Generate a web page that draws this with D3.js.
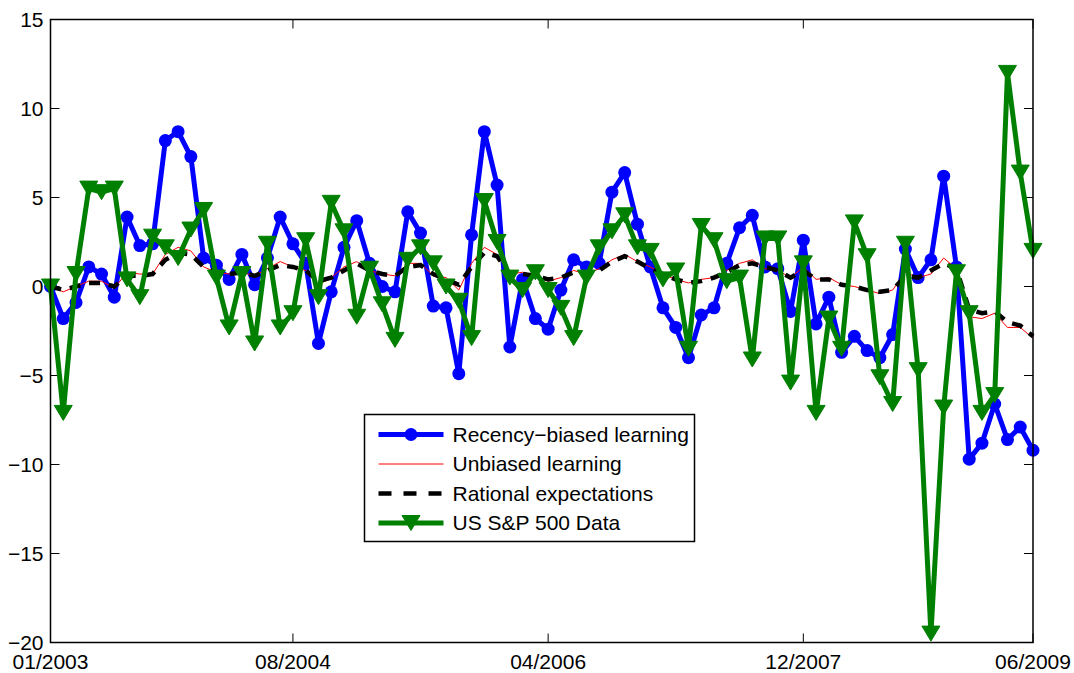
<!DOCTYPE html>
<html>
<head>
<meta charset="utf-8">
<script src="https://cdn.jsdelivr.net/npm/d3@7"></script>
<style>
  body { margin: 0; background: #fff; }
  text { font-family: "Liberation Sans", Arial, Helvetica, sans-serif; fill: #000; }
</style>
</head>
<body>
<script>
// monthly series, 01/2003 .. 06/2009 (78 months)
var recency = [0, -1.8, -0.9, 1.1, 0.7, -0.6, 3.9, 2.3, 2.4, 8.2, 8.7, 7.3,
  1.6, 1.2, 0.4, 1.8, 0.1, 1.6, 3.9, 2.4, 1.3, -3.2, -0.3, 2.2,
  3.7, 1.3, 0.0, -0.3, 4.2, 3.0, -1.1, -1.2, -4.9, 2.9, 8.7, 5.7,
  -3.4, 0.4, -1.8, -2.4, -0.2, 1.5, 1.1, 1.3, 5.3, 6.4, 3.5, 1.1,
  -1.2, -2.3, -4.0, -1.6, -1.2, 1.3, 3.3, 4.0, 1.1, 1.0, -1.4, 2.6,
  -2.1, -0.6, -3.7, -2.8, -3.6, -4.0, -2.7, 2.1, 0.5, 1.5, 6.2, 1.1,
  -9.7, -8.8, -6.6, -8.6, -7.9, -9.2];

var unbiased = [0, -0.3, 0, 0.3, 0.3, -0.1, 0.8, 0.7, 0.7, 1.8, 2.2, 2.0,
  1.1, 0.8, 0.7, 0.8, 0.6, 1.0, 1.4, 1.1, 0.9, 0.1, 0.5, 1.1,
  1.4, 0.9, 0.7, 0.6, 1.3, 1.3, 0.6, 0.5, -0.2, 1.3, 2.2, 1.8,
  0.7, 0.8, 0.6, 0.3, 0.5, 0.9, 0.7, 1.0, 1.5, 1.8, 1.4, 1.1,
  0.7, 0.4, 0.2, 0.4, 0.5, 0.9, 1.3, 1.5, 1.0, 0.9, 0.5, 1.1,
  0.4, 0.5, 0.1, 0.0, -0.2, -0.4, -0.2, 0.8, 0.5, 0.7, 1.6, 1.0,
  -1.7, -1.8, -1.5, -2.3, -2.3, -2.9];

var rational = [0, -0.2, 0, 0.2, 0.2, 0.0, 0.6, 0.6, 0.7, 1.5, 1.9, 1.8,
  1.1, 0.8, 0.7, 0.8, 0.6, 0.9, 1.2, 1.1, 0.9, 0.3, 0.5, 0.9,
  1.3, 0.9, 0.7, 0.6, 1.1, 1.2, 0.7, 0.4, 0.1, 1.1, 1.9, 1.7,
  0.7, 0.7, 0.6, 0.4, 0.5, 0.8, 0.7, 0.9, 1.4, 1.7, 1.4, 1.0,
  0.7, 0.4, 0.2, 0.3, 0.5, 0.8, 1.2, 1.3, 1.1, 0.9, 0.5, 0.9,
  0.4, 0.4, 0.1, 0.0, -0.2, -0.3, -0.2, 0.6, 0.5, 0.9, 1.3, 1.0,
  -1.3, -1.5, -1.4, -2.0, -2.2, -2.8];

var sp500 = [0, -7.1, 0.7, 5.5, 5.3, 5.5, 0.4, -0.6, 2.8, 2.2, 1.6, 3.2,
  4.3, 0.5, -2.3, 0.7, -3.2, 2.4, -2.3, -1.5, 2.6, -0.6, 4.7, 3.1,
  -1.7, 1.0, -1.0, -3.0, 1.5, 2.2, 1.3, 0.0, -0.8, -2.9, 4.8, 2.5,
  0.5, -0.2, 0.8, -0.2, -1.2, -2.9, 0.5, 2.2, 3.1, 4.0, 2.2, 2.0,
  0.4, 0.9, -3.5, 3.4, 2.6, 0.3, 0.5, -4.1, 2.7, 2.7, -5.4, 1.3,
  -7.1, -1.8, -3.5, 3.6, 1.7, -5.1, -6.6, 2.4, -4.7, -19.5, -6.8, 0.8,
  -1.5, -7.1, -6.1, 12.0, 6.4, 2.0];

var xTickIdx = [0, 19, 39, 59, 77];
var xTickLabels = ["01/2003", "08/2004", "04/2006", "12/2007", "06/2009"];
var yTicks = [15, 10, 5, 0, -5, -10, -15, -20];
var seriesNames = ["Recency\u2212biased learning", "Unbiased learning", "Rational expectations", "US S&P 500 Data"];

var width = 1074, height = 673;
var box = {left: 50.5, right: 1033, top: 19.5, bottom: 642.5};

var svg = d3.select('body').append('svg')
  .attr('width', width)
  .attr('height', height);

var x = d3.scaleLinear().domain([0, 77]).range([box.left, box.right]);
var y = d3.scaleLinear().domain([-20, 15]).range([box.bottom, box.top]);

var fmt = function(d) { return d < 0 ? "\u2212" + Math.abs(d) : String(d); };

// box with inward ticks on all four sides (matlab style)
var tickLen = 9;
var axes = svg.append('g');
axes.selectAll('.xt').data(xTickIdx).enter().append('line')
  .attr('x1', function(d) { return x(d); }).attr('x2', function(d) { return x(d); })
  .attr('y1', box.bottom).attr('y2', box.bottom - tickLen)
  .attr('stroke', '#000');
axes.selectAll('.xtt').data(xTickIdx).enter().append('line')
  .attr('x1', function(d) { return x(d); }).attr('x2', function(d) { return x(d); })
  .attr('y1', box.top).attr('y2', box.top + tickLen)
  .attr('stroke', '#000');
axes.selectAll('.yt').data(yTicks).enter().append('line')
  .attr('x1', box.left).attr('x2', box.left + tickLen)
  .attr('y1', function(d) { return y(d); }).attr('y2', function(d) { return y(d); })
  .attr('stroke', '#000');
axes.selectAll('.ytr').data(yTicks).enter().append('line')
  .attr('x1', box.right).attr('x2', box.right - tickLen)
  .attr('y1', function(d) { return y(d); }).attr('y2', function(d) { return y(d); })
  .attr('stroke', '#000');

axes.selectAll('.xl').data(xTickIdx).enter().append('text')
  .attr('x', function(d) { return x(d); })
  .attr('y', box.bottom + 26)
  .attr('text-anchor', 'middle')
  .style('font-size', '21px')
  .text(function(d, i) { return xTickLabels[i]; });
axes.selectAll('.yl').data(yTicks).enter().append('text')
  .attr('x', box.left - 7)
  .attr('y', function(d) { return y(d); })
  .attr('dy', '0.35em')
  .attr('text-anchor', 'end')
  .style('font-size', '21px')
  .text(fmt);

var line = d3.line()
  .x(function(d, i) { return x(i); })
  .y(function(d) { return y(d); });

var plot = svg.append('g');

// recency-biased learning: thick blue with filled circles
plot.append('path').datum(recency)
  .attr('d', line).attr('fill', 'none')
  .attr('stroke', '#0000ff').attr('stroke-width', 5).attr('stroke-linejoin', 'round');
plot.selectAll('.dot').data(recency).enter().append('circle')
  .attr('cx', function(d, i) { return x(i); })
  .attr('cy', function(d) { return y(d); })
  .attr('r', 6.5).attr('fill', '#0000ff');

// unbiased learning
plot.append('path').datum(unbiased)
  .attr('d', line).attr('fill', 'none')
  .attr('stroke', '#ff0000').attr('stroke-width', 1);

// rational expectations
plot.append('path').datum(rational)
  .attr('d', line).attr('fill', 'none')
  .attr('stroke', '#000').attr('stroke-width', 4.5)
  .attr('stroke-dasharray', '11,9');

// s&p data: green with down-pointing triangles
var tri = 'M-9,-7.5L9,-7.5L0,7.5Z';
plot.append('path').datum(sp500)
  .attr('d', line).attr('fill', 'none')
  .attr('stroke', '#008000').attr('stroke-width', 5).attr('stroke-linejoin', 'round');
plot.selectAll('.tri').data(sp500).enter().append('path')
  .attr('d', tri)
  .attr('transform', function(d, i) { return 'translate(' + x(i) + ',' + y(d) + ')'; })
  .attr('fill', '#008000').attr('stroke', '#008000').attr('stroke-width', 1).attr('stroke-linejoin', 'round');

// frame drawn on top of the lines
svg.append('rect')
  .attr('x', box.left).attr('y', box.top)
  .attr('width', box.right - box.left).attr('height', box.bottom - box.top)
  .attr('fill', 'none').attr('stroke', '#000').attr('stroke-width', 1.5);

// legend
var lg = svg.append('g').attr('transform', 'translate(364.5,414.5)');
lg.append('rect').attr('width', 330).attr('height', 127)
  .attr('fill', '#fff').attr('stroke', '#000').attr('stroke-width', 1.5);
var rows = [20, 49.5, 79, 108.5];
var x1 = 14, x2 = 79, xm = 46.5;
lg.append('line').attr('x1', x1).attr('x2', x2).attr('y1', rows[0]).attr('y2', rows[0])
  .attr('stroke', '#0000ff').attr('stroke-width', 5);
lg.append('circle').attr('cx', xm).attr('cy', rows[0]).attr('r', 6.5).attr('fill', '#0000ff');
lg.append('line').attr('x1', x1).attr('x2', x2).attr('y1', rows[1]).attr('y2', rows[1])
  .attr('stroke', '#ff0000').attr('stroke-width', 1);
lg.append('line').attr('x1', x1).attr('x2', x2).attr('y1', rows[2]).attr('y2', rows[2])
  .attr('stroke', '#000').attr('stroke-width', 4.5).attr('stroke-dasharray', '13,12');
lg.append('line').attr('x1', x1).attr('x2', x2).attr('y1', rows[3]).attr('y2', rows[3])
  .attr('stroke', '#008000').attr('stroke-width', 5);
lg.append('path').attr('d', tri).attr('transform', 'translate(' + xm + ',' + rows[3] + ')')
  .attr('fill', '#008000').attr('stroke', '#008000').attr('stroke-width', 1);
lg.selectAll('.lt').data(seriesNames).enter().append('text')
  .attr('x', 88)
  .attr('y', function(d, i) { return rows[i]; })
  .attr('dy', '0.35em')
  .style('font-size', '21px')
  .text(function(d) { return d; });
</script>
</body>
</html>
